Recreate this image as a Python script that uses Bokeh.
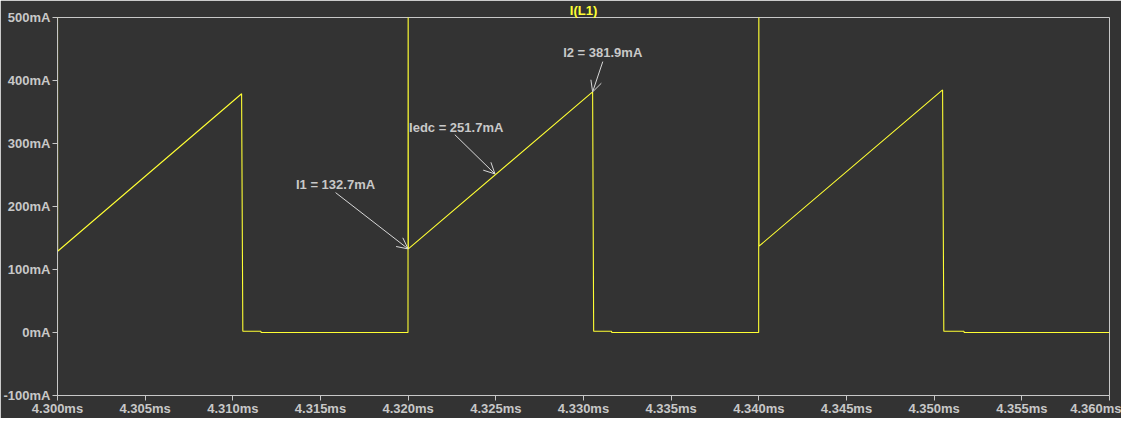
from bokeh.plotting import figure
from bokeh.models import Range1d, FixedTicker, Arrow, OpenHead, Label
from bokeh.embed import file_html
from bokeh.resources import INLINE

# ---- data (time in microseconds, current in mA) ----
time_us = [4300.0, 4300.0, 4300.01, 4310.50, 4310.57, 4311.6, 4311.61, 4319.99,
           4320.0, 4320.01, 4330.52, 4330.58, 4331.6, 4331.61, 4339.99,
           4340.0, 4340.01, 4350.48, 4350.55, 4351.7, 4351.71, 4360.0]
current_mA = [0, 560, 129, 379, 2, 2, 0, 0,
              560, 132.7, 381.9, 2, 2, 0, 0,
              560, 137, 385, 2, 2, 0, 0]

x_ticks = [4300, 4305, 4310, 4315, 4320, 4325, 4330, 4335, 4340, 4345, 4350, 4355, 4360]
x_tick_labels = ["4.300ms", "4.305ms", "4.310ms", "4.315ms", "4.320ms", "4.325ms", "4.330ms",
                 "4.335ms", "4.340ms", "4.345ms", "4.350ms", "4.355ms", "4.360ms"]
y_ticks = [-100, 0, 100, 200, 300, 400, 500]
y_tick_labels = ["-100mA", "0mA", "100mA", "200mA", "300mA", "400mA", "500mA"]

# annotations: label text, text anchor (t, mA), arrow start (t, mA), arrow end (t, mA)
ann_text = ["I1 = 132.7mA", "Iedc = 251.7mA", "I2 = 381.9mA"]
ann_text_x = [4313.6, 4320.05, 4328.84]
ann_text_y = [235, 326, 444]
arrow_x0 = [4315.86, 4322.66, 4331.10]
arrow_y0 = [222, 314, 430]
arrow_x1 = [4320.0, 4324.95, 4330.52]
arrow_y1 = [132.7, 251.7, 381.9]

BG = "#333333"
FG = "#c8c8c8"
TRACE = "#ffff33"
FONT = "Liberation Sans"

p = figure(width=1121, height=418, output_backend="svg", toolbar_location=None,
           x_range=Range1d(4300, 4360), y_range=Range1d(-100, 500),
           title="I(L1)", min_border_left=50, min_border_right=12,
           min_border_top=0, min_border_bottom=0)
p.background_fill_color = BG
p.border_fill_color = BG
p.outline_line_color = FG
p.outline_line_width = 1
p.grid.visible = False

p.title.align = "center"
p.title.text_color = TRACE
p.title.text_font = FONT
p.title.text_font_size = "13px"
p.title.text_font_style = "bold"
p.title.standoff = 0

for ax in (p.xaxis[0], p.yaxis[0]):
    ax.axis_line_color = FG
    ax.major_tick_line_color = FG
    ax.minor_tick_line_color = None
    ax.major_tick_out = 5
    ax.major_tick_in = 0
    ax.major_label_text_color = FG
    ax.major_label_text_font = FONT
    ax.major_label_text_font_size = "13px"
    ax.major_label_text_font_style = "bold"
p.xaxis.major_label_standoff = 0
p.yaxis.major_label_standoff = 2

p.xaxis.ticker = FixedTicker(ticks=x_ticks)
p.xaxis.major_label_overrides = dict(zip(x_ticks, x_tick_labels))
p.yaxis.ticker = FixedTicker(ticks=y_ticks)
p.yaxis.major_label_overrides = dict(zip(y_ticks, y_tick_labels))

p.line(time_us, current_mA, line_color=TRACE, line_width=1.1)

for txt, tx, ty, x0, y0, x1, y1 in zip(ann_text, ann_text_x, ann_text_y,
                                         arrow_x0, arrow_y0, arrow_x1, arrow_y1):
    p.add_layout(Arrow(x_start=x0, y_start=y0, x_end=x1, y_end=y1,
                       line_color="#d8d8d8", line_width=1,
                       end=OpenHead(size=11, line_color="#d8d8d8", line_width=1)))
    p.add_layout(Label(x=tx, y=ty, text=txt, text_color=FG, text_font=FONT,
                       text_font_size="13px", text_font_style="bold",
                       text_baseline="middle", text_align="left"))

open("out.html", "w").write(file_html(p, INLINE))
